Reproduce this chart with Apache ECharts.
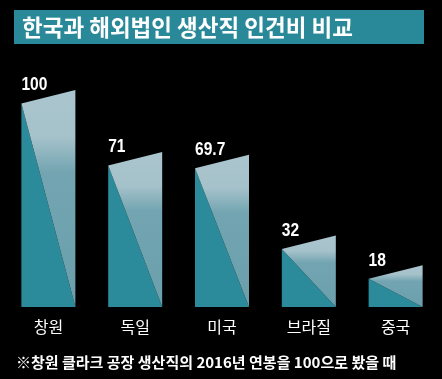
<!DOCTYPE html>
<html><head><meta charset="utf-8">
<script src="https://cdn.jsdelivr.net/npm/echarts@6/dist/echarts.min.js"></script>
<style>html,body{margin:0;padding:0;background:#000;}#c{width:442px;height:379px;}</style>
</head><body><div id="c"></div>
<script>
var categories = ['창원', '독일', '미국', '브라질', '중국'];
var values = [100, 71, 69.7, 32, 18];
var titleText = '한국과 해외법인 생산직 인건비 비교';
var noteText = '※창원 클라크 공장 생산직의 2016년 연봉을 100으로 봤을 때';

var chart = echarts.init(document.getElementById('c'), null, {renderer: 'canvas'});
var KR = '"Noto Sans CJK KR", "Noto Sans", sans-serif';
var SLANT = 13.5;

function renderItem(params, api) {
  var idx = api.value(0);
  var v = api.value(1);
  var top = api.coord([idx, v]);
  var base = api.coord([idx, -1.5]);
  var band = api.size([1, 0])[0];
  var w = band * 0.622;
  var xl = top[0] - w / 2, xr = top[0] + w / 2;
  var yRT = top[1], yLT = top[1] + SLANT, yB = base[1];
  return {
    type: 'group',
    children: [
      {type: 'polygon', shape: {points: [[xl, yLT], [xl, yB], [xr, yB]]},
        style: {fill: '#2b8b9b'}},
      {type: 'polygon', shape: {points: [[xl, yLT], [xr, yRT], [xr, yB]]},
        style: {fill: new echarts.graphic.LinearGradient(0, 0, 0, 1, [
          {offset: 0, color: '#aac5ce'},
          {offset: 0.22, color: '#a5c1ca'},
          {offset: 0.38, color: '#72a5b1'},
          {offset: 1, color: '#6a9fab'}
        ])}},
      {type: 'text', x: xl, y: yRT - 5, scaleX: 0.82,
        style: {text: String(values[params.dataIndex]), fill: '#ffffff',
          font: 'bold 19px "Liberation Sans", Arial, sans-serif',
          align: 'left', verticalAlign: 'middle'}}
    ]
  };
}

var option = {
  backgroundColor: '#000000',
  animation: false,
  grid: {left: 5, right: 3, top: 90, bottom: 72},
  xAxis: {
    type: 'category', data: categories,
    axisLine: {show: false}, axisTick: {show: false}, splitLine: {show: false},
    axisLabel: {color: '#ffffff', fontSize: 16, fontFamily: KR, margin: 12}
  },
  yAxis: {type: 'value', min: -1.5, max: 100, show: false, splitLine: {show: false}},
  series: [{
    type: 'custom',
    renderItem: renderItem,
    clip: false,
    data: values.map(function (v, i) { return [i, v]; })
  }],
  graphic: [
    {type: 'rect', shape: {x: 14, y: 10, width: 410, height: 34}, style: {fill: '#2a8999'}},
    {type: 'text', x: 22, y: 27.5,
      style: {text: titleText, fill: '#ffffff', font: 'bold 22.5px ' + KR, verticalAlign: 'middle', align: 'left'}},
    {type: 'text', x: 16, y: 362,
      style: {text: noteText, fill: '#ffffff', font: 'bold 15px ' + KR, verticalAlign: 'middle', align: 'left'}}
  ]
};
chart.setOption(option);
</script>
</body></html>
